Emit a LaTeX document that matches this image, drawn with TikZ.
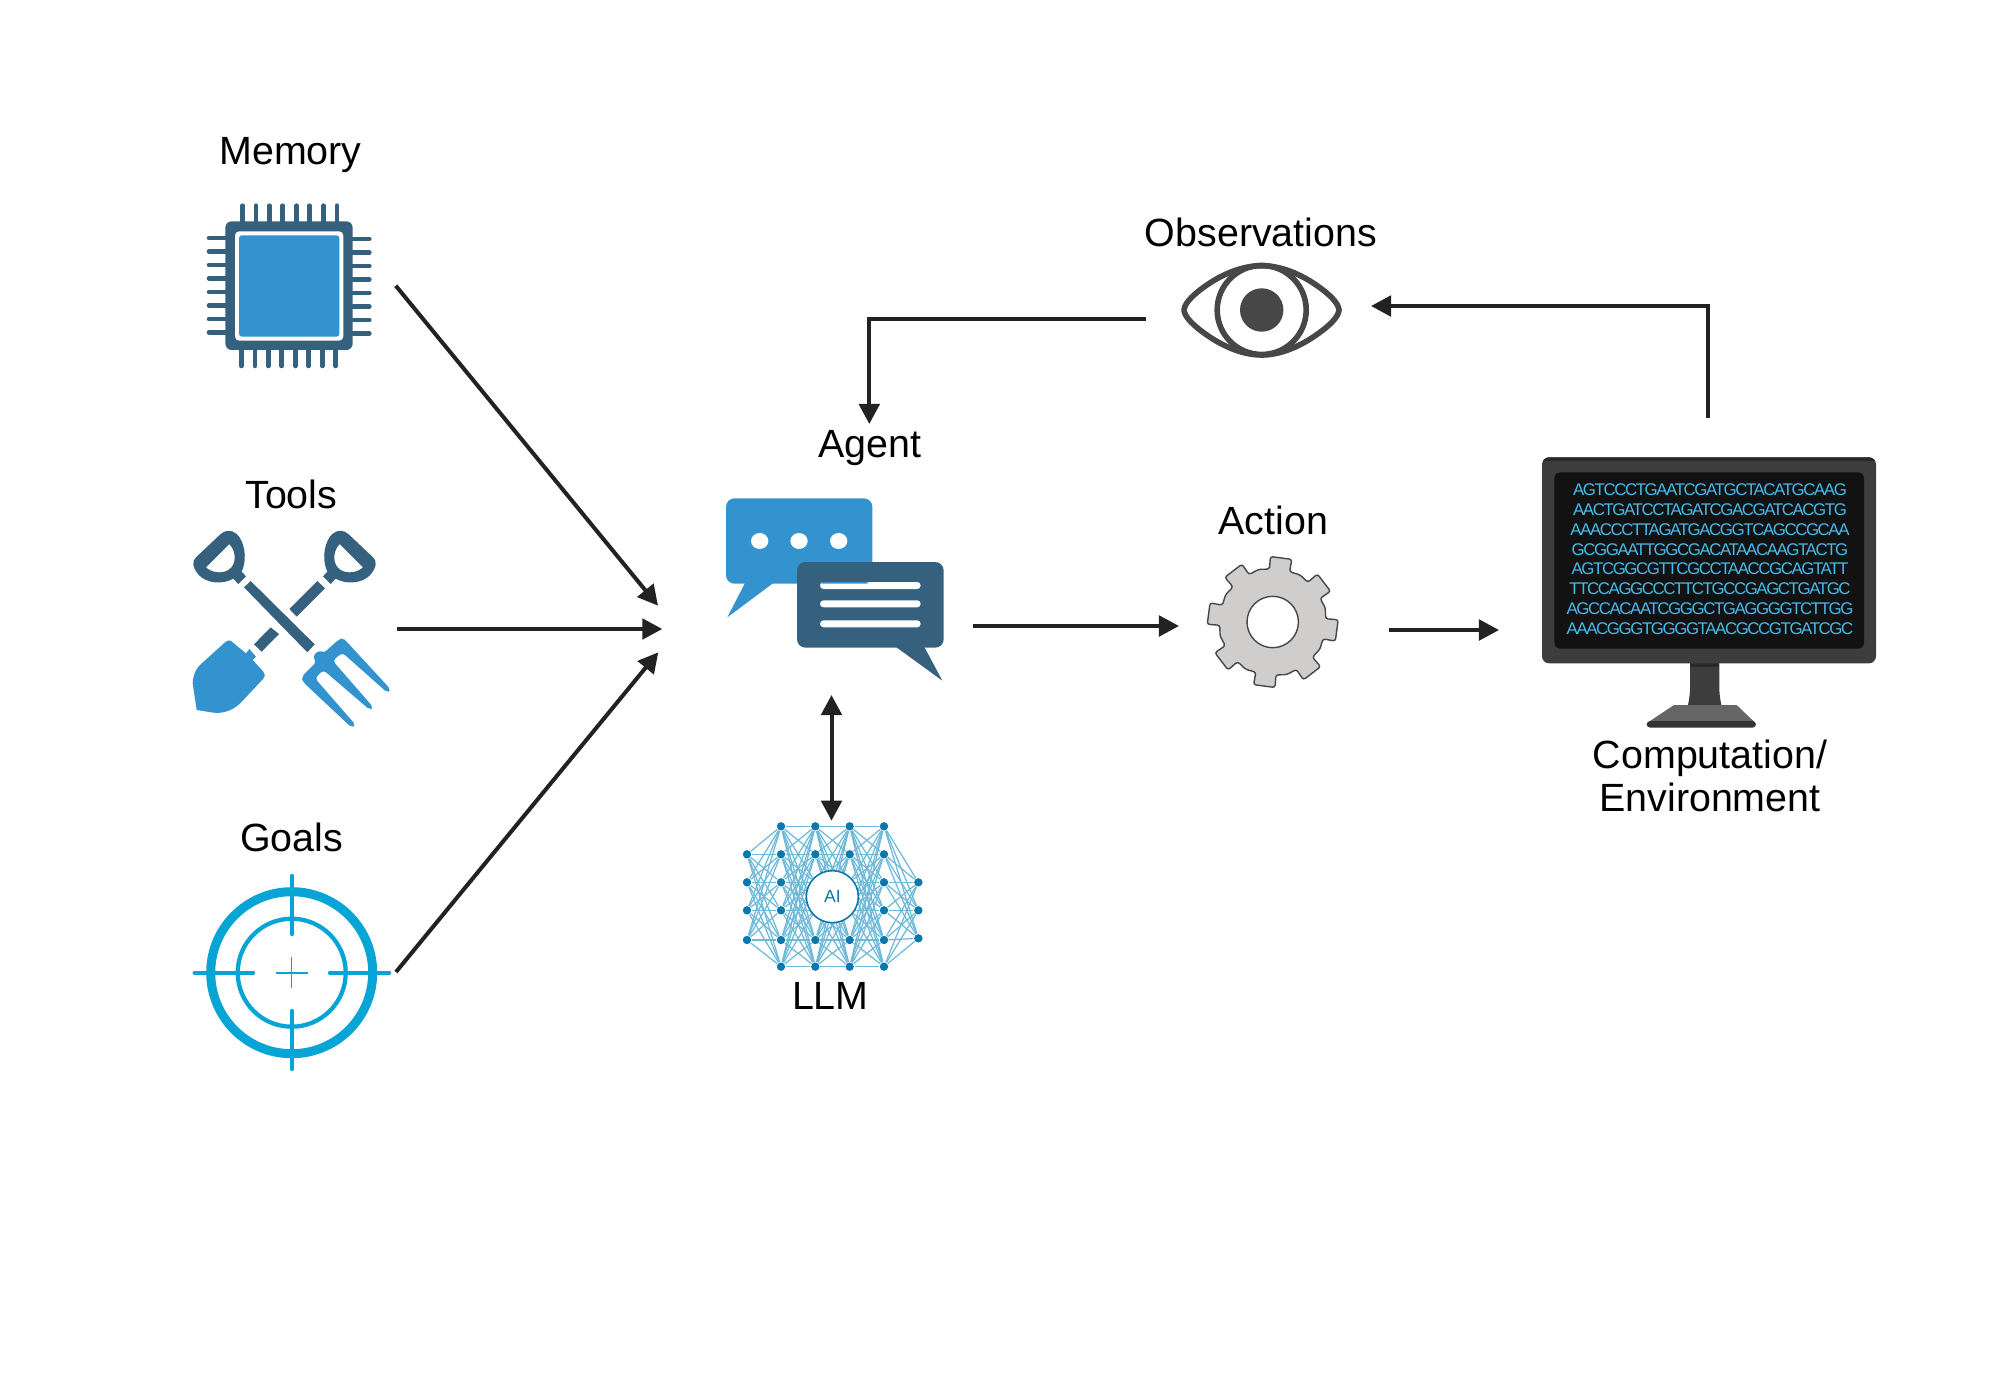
\documentclass[tikz,border=0pt]{standalone}
\usepackage{fontspec}
\setmainfont{Liberation Sans}
\newfontfamily\seqfont[LetterSpace=-8.5]{Liberation Sans}
\usetikzlibrary{arrows.meta}
\definecolor{chipdark}{HTML}{36617E}
\definecolor{chipblue}{HTML}{3293CE}
\definecolor{goalblue}{HTML}{06A5D6}
\definecolor{eyegrey}{HTML}{474747}
\definecolor{geargrey}{HTML}{D0CDCD}
\definecolor{llmdark}{HTML}{0A77AE}
\definecolor{llmlight}{HTML}{6DB9D9}
\definecolor{seqblue}{HTML}{45BBEC}
\definecolor{linkgrey}{HTML}{222222}

\begin{document}
\begin{tikzpicture}[x=0.01cm,y=-0.01cm,>={Triangle[length=5.7pt,width=5.8pt]}]
    \tikzstyle{caption}=[font=\fontsize{11.2}{13}\selectfont,anchor=base,inner sep=0pt]
    \tikzstyle{icon box}=[inner sep=0pt,minimum height=1.6cm]
    \tikzstyle{link}=[->,draw=linkgrey,line width=1.14pt]
    \tikzstyle{pin line}=[draw=chipdark,line width=1.3pt,line cap=round]
    \tikzstyle{goal line}=[draw=goalblue,line width=1.25pt,line cap=round]
    \tikzstyle{llm node}=[circle,fill=llmdark,minimum size=0.084cm,inner sep=0pt]
    \tikzstyle{llm edge}=[draw=llmlight,line width=0.35pt]
    \tikzstyle{seq}=[font=\seqfont\fontsize{4.8}{5}\selectfont,text=seqblue,anchor=base,inner sep=0pt]

    \useasboundingbox (0,0) rectangle (2000,1400);

    % Icon boxes, the links start at their sides
    \node[icon box,minimum width=2.08cm] (memory) at (291,285.7) {};
    \node[icon box,minimum width=2.10cm] (tools) at (291,629) {};
    \node[icon box,minimum width=2.07cm] (goals) at (291.7,972) {};

    % Free ends of the links
    \coordinate (agent in 1) at (658,605.7);
    \coordinate (agent in 2) at (662.3,629);
    \coordinate (agent in 3) at (658.3,652.3);
    \coordinate (agent out) at (973,626);
    \coordinate (agent top) at (869.3,424);
    \coordinate (agent bottom) at (831.5,695);
    \coordinate (llm top) at (831.5,820.7);
    \coordinate (action in) at (1179,626);
    \coordinate (action out) at (1389,630);
    \coordinate (computer in) at (1499,630);
    \coordinate (computer top) at (1708.3,418.3);
    \coordinate (eye in) at (1371,306);
    \coordinate (eye out) at (1146,318.7);

    % Captions
    \node[caption] (memory text) at (290.5,165) {Memory};
    \node[caption] (tools text) at (291.3,508.7) {Tools};
    \node[caption] (goals text) at (291.7,851) {Goals};
    \node[caption] (agent text) at (869.7,457.3) {Agent};
    \node[caption] (llm text) at (830.3,1009) {LLM};
    \node[caption] (eye text) at (1261,246) {Observations};
    \node[caption] (action text) at (1273.3,534) {Action};
    \node[caption] (computer text a) at (1710,768) {Computation/};
    \node[caption] (computer text b) at (1710,811) {Environment};

    % Memory chip
    \begin{scope}[shift={(180,110)},scale=1/3]
        \foreach \x in {187,228,268,308,349,389,430,471}
            \draw[pin line] (\x,287) -- (\x,340);
        \foreach \x in {184,225,265,305,346,386,427,467}
            \draw[pin line] (\x,715) -- (\x,768);
        \foreach \y in {384,424,465,505,546,586,627,667}
            \draw[pin line] (87,\y) -- (140,\y);
        \foreach \y in {387,427,468,508,549,589,630,670}
            \draw[pin line] (515,\y) -- (568,\y);
        \fill[chipdark,rounded corners=1.8pt] (136,334) rectangle (518,720);
        \fill[white,rounded corners=1.2pt] (165,364) rectangle (490,692);
        \fill[chipblue,rounded corners=0.8pt] (177,376) rectangle (478,680);
    \end{scope}

    % Tools, the two grips are mirror images
    \begin{scope}[shift={(180,460)},scale=1/3]
        \foreach \s/\m in {0/1,627/-1} {
            \begin{scope}[shift={(\s,0)},xscale=\m]
                \fill[chipdark,even odd rule] (40,315) .. controls (38,305) and (42,298) .. (50,290)
                    -- (122,222) .. controls (135,210) and (155,208) .. (170,222)
                    .. controls (190,240) and (205,290) .. (185,335) -- (198,349) -- (175,372) -- (160,356)
                    .. controls (120,378) and (55,370) .. (40,315) -- cycle
                    (78,322) -- (148,252) .. controls (170,275) and (170,315) .. (145,330)
                    .. controls (125,342) and (95,338) .. (78,322) -- cycle;
            \end{scope}
        }
        \fill[chipdark] (192,382) -- (212,363) -- (404,553) -- (382,577) -- cycle;
        \fill[chipdark] (328,447) -- (412,363) -- (435,385) -- (350,470) -- cycle;
        \fill[chipdark] (222,553) -- (272,502) -- (297,522) -- (245,575) -- cycle;
        \fill[chipblue] (152,542) -- (198,580) -- (208,567) -- (228,590) -- (218,600) -- (250,635)
            .. controls (256,642) and (256,650) .. (250,656) -- (190,720)
            .. controls (165,750) and (130,762) .. (100,758) -- (50,750)
            -- (38,670) .. controls (40,640) and (50,625) .. (60,615) -- (135,547)
            .. controls (140,542) and (147,540) .. (152,542) -- cycle;
        \fill[chipblue,rounded corners=1pt] (397,590) -- (418,570) -- (430,580) -- (478,537) -- (490,535) -- (500,545)
            -- (632,688) -- (622,698) -- (487,578) -- (458,602) -- (580,742) -- (570,750)
            -- (430,630) -- (405,655) -- (527,795) -- (515,803) -- (368,665) -- (365,650) -- (410,605) -- cycle;
    \end{scope}

    % Goals target
    \draw[goalblue,line width=2.56pt] (291.7,972.7) circle (81);
    \draw[goalblue,line width=1.22pt] (291.7,972.7) circle (54);
    \draw[goal line] (291.7,876) -- (291.7,934);
    \draw[goal line] (291.7,1011) -- (291.7,1069);
    \draw[goal line] (194.7,972.7) -- (253,972.7);
    \draw[goal line] (330,972.7) -- (389,972.7);
    \draw[goalblue,line width=0.45pt] (275.7,972.7) -- (307.7,972.7);
    \draw[goalblue,line width=0.45pt] (291.7,956.7) -- (291.7,988);

    % Agent bubbles
    \begin{scope}[shift={(710,420)},scale=1/3]
        \fill[chipblue,rounded corners=2.4pt] (48,235) rectangle (487,491);
        \fill[chipblue] (105,489) -- (52,592) -- (190,489) -- cycle;
        \foreach \x in {149,267,386}
            \fill[white] (\x,363) ellipse (26 and 24);
        \fill[chipdark,rounded corners=2.4pt] (261,426) rectangle (701,683);
        \fill[chipdark] (558,681) -- (697,782) -- (643,681) -- cycle;
        \fill[white,rounded corners=1pt] (330,486) rectangle (632,507);
        \fill[chipblue,rounded corners=0.5pt] (330,486) rectangle (475,491);
        \fill[white,rounded corners=1pt] (330,541) rectangle (632,562);
        \fill[white,rounded corners=1pt] (330,601) rectangle (632,622);
    \end{scope}

    % LLM network
    \begin{scope}[shift={(730,810)},scale=1/3]
        \foreach \c/\x/\l in {1/51/{133,217,301,390},
                              2/153/{49,133,217,301,390,470},
                              3/256/{49,133,217,301,390,470},
                              4/359/{49,133,217,301,390,470},
                              5/462/{49,133,217,301,390,470},
                              6/565/{217,301,385}}
            \foreach \y in \l
                \node[llm node] (N-\c-\y) at (\x,\y) {};
        \foreach \a/\b/\la/\lb in {1/2/{133,217,301,390}/{49,133,217,301,390,470},
                                   2/3/{49,133,217,301,390,470}/{49,133,217,301,390,470},
                                   3/4/{49,133,217,301,390,470}/{49,133,217,301,390,470},
                                   4/5/{49,133,217,301,390,470}/{49,133,217,301,390,470},
                                   5/6/{49,133,217,301,390,470}/{217,301,385}}
            \foreach \ya in \la
                \foreach \yb in \lb
                    \draw[llm edge] (N-\a-\ya) -- (N-\b-\yb);
        \node[circle,draw=llmdark,fill=white,line width=0.45pt,minimum size=0.52cm,inner sep=0pt,
              text=llmdark,font=\fontsize{5}{6}\selectfont] (ai) at (307,260) {AI};
    \end{scope}

    % Observation eye
    \draw[eyegrey,line width=1.6pt,line join=round] (1184,310)
        .. controls (1184.5,304) and (1191,297) .. (1200,290)
        .. controls (1218,276) and (1240,265.7) .. (1261.7,265.7)
        .. controls (1283,265.7) and (1305,276) .. (1323,290)
        .. controls (1332,297) and (1338.5,304) .. (1339,310)
        .. controls (1338.5,316) and (1332,323) .. (1323,330)
        .. controls (1305,344) and (1283,355) .. (1261.7,355)
        .. controls (1240,355) and (1218,344) .. (1200,330)
        .. controls (1191,323) and (1184.5,316) .. (1184,310) -- cycle;
    \draw[eyegrey,line width=1.6pt] (1261.7,310) circle (44.5);
    \fill[eyegrey] (1261.7,310) circle (21.7);

    % Action gear
    \begin{scope}[shift={(1272.7,622)}]
        \draw[fill=geargrey,draw=eyegrey,line width=0.4pt,rounded corners=0.7pt] (-93.5:53)
            \foreach \a in {-82.5,-37.5,7.5,52.5,97.5,142.5,187.5,232.5}
                { -- (\a-11:53) -- (\a-9.5:65.5) -- (\a+9.5:65.5) -- (\a+11:53) -- (\a+22.5:54.5) } -- cycle;
        \draw[fill=white,draw=eyegrey,line width=0.4pt] (0,0) circle (25.7);
    \end{scope}

    % Computer
    \begin{scope}[shift={(1530,450)},scale=1/3]
        \fill[black!76] (480,630) -- (568,630) -- (568,720) .. controls (569,740) and (572,755) .. (575,770)
            -- (473,770) .. controls (476,755) and (479,740) .. (480,720) -- cycle;
        \fill[black!84] (480,640) rectangle (568,652);
        \fill[black!60] (432,765) -- (620,765) -- (672,815) -- (357,815) -- cycle;
        \fill[black!80,rounded corners=1pt] (350,813) rectangle (678,833);
        \fill[black!76,rounded corners=2pt] (36,22) rectangle (1038,640);
        \begin{scope}
            \clip[rounded corners=2pt] (36,22) rectangle (1038,640);
            \fill[black!84] (36,22) rectangle (1038,34);
        \end{scope}
        \fill[black!93,rounded corners=1.5pt] (73,67) rectangle (1002,596);
        \foreach \y/\s in {136/AGTCCCTGAATCGATGCTACATGCAAG,
                           196/AACTGATCCTAGATCGACGATCACGTG,
                           256/AAACCCTTAGATGACGGTCAGCCGCAA,
                           315/GCGGAATTGGCGACATAACAAGTACTG,
                           374/AGTCGGCGTTCGCCTAACCGCAGTATT,
                           434/TTCCAGGCCCTTCTGCCGAGCTGATGC,
                           494/AGCCACAATCGGGCTGAGGGGTCTTGG,
                           553/AAACGGGTGGGGTAACGCCGTGATCGC}
            \node[seq] (seq-\y) at (540,\y) {\s};
    \end{scope}

    % Connect the inputs with the agent
    \draw[link] (memory.east) -- (agent in 1);
    \draw[link] (tools.east) -- (agent in 2);
    \draw[link] (goals.east) -- (agent in 3);

    % Connect the agent with the LLM
    \draw[link,<->] (agent bottom) -- (llm top);

    % The loop through the environment
    \draw[link] (agent out) -- (action in);
    \draw[link] (action out) -- (computer in);
    \draw[link] (computer top) |- (eye in);
    \draw[link] (eye out) -| (agent top);
\end{tikzpicture}
\end{document}
